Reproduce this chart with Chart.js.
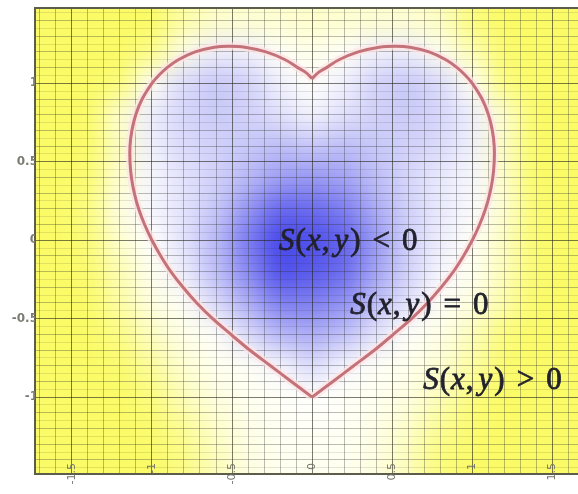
<!DOCTYPE html>
<html>
<head>
<meta charset="utf-8">
<script src="https://cdn.jsdelivr.net/npm/chart.js@4.4.1/dist/chart.umd.min.js"></script>
<style>
  html, body { margin: 0; padding: 0; background: #fff; }
  #wrap { width: 578px; height: 494px; }
</style>
</head>
<body>
<div id="wrap"><canvas id="heart"></canvas></div>
<script>
// labelled ticks
var xTicks = [-1.5, -1, -0.5, 0, 0.5, 1, 1.5];
var yTicks = [-1, -0.5, 0, 0.5, 1];

// sampled S(x,y) shading, -1 = deepest blue, 0 = white, 1 = full yellow
var fieldX = [-1.6, -1.4, -1.2, -1.0, -0.8, -0.6, -0.4, -0.2, 0, 0.2, 0.4, 0.6, 0.8, 1.0, 1.2, 1.4, 1.6];
var fieldY = [1.4, 1.2, 1.0, 0.8, 0.6, 0.4, 0.2, 0, -0.2, -0.4, -0.6, -0.8, -1.0, -1.2, -1.4];
var fieldRows = [
    [1, 1, 1, 1, 0.6, 0.35, 0.3, 0.3, 0.35, 0.3, 0.3, 0.3, 0.4, 0.85, 1, 1, 1],
    [1, 1, 1, 0.8, 0.15, -0.1, -0.08, 0.05, 0.15, 0.05, -0.08, -0.1, 0.1, 0.5, 0.95, 1, 1],
    [1, 1, 0.9, 0.05, -0.2, -0.3, -0.25, -0.08, 0.02, -0.08, -0.25, -0.3, -0.2, 0.05, 0.85, 1, 1],
    [1, 1, 0.3, -0.1, -0.22, -0.28, -0.25, -0.16, -0.06, -0.16, -0.25, -0.28, -0.22, -0.1, 0.3, 1, 1],
    [1, 1, 0.4, -0.08, -0.2, -0.25, -0.3, -0.35, -0.3, -0.35, -0.3, -0.25, -0.2, -0.08, 0.4, 1, 1],
    [1, 0.95, 0.3, -0.05, -0.15, -0.25, -0.38, -0.52, -0.55, -0.5, -0.35, -0.22, -0.12, -0.05, 0.35, 1, 1],
    [1, 0.85, 0.2, -0.05, -0.15, -0.3, -0.58, -0.82, -0.8, -0.7, -0.45, -0.25, -0.12, -0.03, 0.3, 0.95, 1],
    [1, 0.9, 0.3, 0, -0.15, -0.38, -0.72, -1, -0.95, -0.85, -0.55, -0.25, -0.1, 0.05, 0.4, 0.95, 1],
    [1, 0.95, 0.5, 0.1, -0.1, -0.35, -0.65, -0.95, -0.9, -0.8, -0.5, -0.25, -0.05, 0.1, 0.45, 0.95, 1],
    [1, 1, 0.6, 0.2, 0.05, -0.2, -0.45, -0.7, -0.7, -0.6, -0.35, -0.15, 0.05, 0.2, 0.55, 1, 1],
    [1, 1, 0.8, 0.4, 0.15, 0.03, -0.2, -0.4, -0.45, -0.35, -0.15, 0.03, 0.15, 0.45, 0.85, 1, 1],
    [1, 1, 0.95, 0.65, 0.3, 0.1, 0.05, -0.05, -0.2, -0.05, 0.05, 0.12, 0.3, 0.6, 0.95, 1, 1],
    [1, 1, 1, 0.85, 0.45, 0.2, 0.1, 0.05, 0, 0.05, 0.1, 0.2, 0.45, 0.85, 1, 1, 1],
    [1, 1, 1, 0.95, 0.7, 0.35, 0.15, 0.07, 0.05, 0.07, 0.15, 0.35, 0.7, 0.95, 1, 1, 1],
    [1, 1, 1, 1, 0.8, 0.45, 0.2, 0.1, 0.1, 0.1, 0.2, 0.45, 0.85, 1, 1, 1, 1]
];

// the S(x,y) = 0 curve, traced from the top notch round to the bottom tip
var heartY      = [1.03, 1.07, 1.1, 1.15, 1.2, 1.23, 1.236, 1.23, 1.2, 1.15, 1.1, 1.05, 1.0, 0.9, 0.8, 0.7, 0.6, 0.5, 0.4, 0.3, 0.2, 0.1, 0, -0.1, -0.2, -0.3, -0.4, -0.5, -0.6, -0.7, -0.8, -0.9, -1.0];
var heartRightX = [0, 0.04, 0.09, 0.168, 0.288, 0.42, 0.52, 0.61, 0.73, 0.835, 0.905, 0.958, 1.0, 1.061, 1.101, 1.125, 1.137, 1.137, 1.128, 1.11, 1.083, 1.046, 1.0, 0.945, 0.882, 0.806, 0.72, 0.621, 0.507, 0.39, 0.26, 0.13, 0];
var heartLeftX  = [0, -0.04, -0.09, -0.168, -0.288, -0.42, -0.52, -0.61, -0.73, -0.835, -0.905, -0.958, -1.0, -1.061, -1.101, -1.125, -1.137, -1.137, -1.128, -1.11, -1.083, -1.046, -1.0, -0.945, -0.882, -0.806, -0.72, -0.621, -0.507, -0.39, -0.26, -0.13, 0];

var relations = ['<', '=', '>'];

function points(xs, ys) {
    return xs.map(function (x, i) { return { x: x, y: ys[i] }; });
}

function near(a, b) { return Math.abs(a - b) < 1e-6; }

function tickText(list) {
    return function (value) {
        for (var i = 0; i < list.length; i++) {
            if (near(list[i], value)) return String(list[i]);
        }
        return '';
    };
}

function isHalf(v) { return near(v * 2, Math.round(v * 2)); }
function isTenth(v) { return near(v * 10, Math.round(v * 10)); }

function fieldColour(v) {
    var t;
    if (v < 0) {
        t = Math.min(1, -v);
        return 'rgb(' + Math.round(255 - 185 * t) + ',' + Math.round(255 - 185 * t) + ',' + Math.round(255 - 20 * t) + ')';
    }
    t = Math.min(1, v);
    return 'rgb(' + Math.round(255 - 4 * t) + ',' + Math.round(255 - 4 * t) + ',' + Math.round(255 - 152 * t) + ')';
}

// shaded background, painted under the grid
var fieldPlugin = {
    id: 'field',
    beforeDraw: function (chart) {
        var xs = chart.scales.x, ys = chart.scales.y, area = chart.chartArea;
        var pad = 80;
        var off = document.createElement('canvas');
        off.width = chart.width + pad * 2;
        off.height = chart.height + pad * 2;
        var o = off.getContext('2d');
        o.translate(pad, pad);
        for (var r = 0; r < fieldY.length; r++) {
            for (var c = 0; c < fieldX.length; c++) {
                var x0 = xs.getPixelForValue(fieldX[c] - 0.1);
                var x1 = xs.getPixelForValue(fieldX[c] + 0.1);
                var y0 = ys.getPixelForValue(fieldY[r] + 0.1);
                var y1 = ys.getPixelForValue(fieldY[r] - 0.1);
                if (c === 0) x0 -= pad;
                if (c === fieldX.length - 1) x1 += pad;
                if (r === 0) y0 -= pad;
                if (r === fieldY.length - 1) y1 += pad;
                o.fillStyle = fieldColour(fieldRows[r][c]);
                o.fillRect(Math.floor(x0), Math.floor(y0), Math.ceil(x1 - x0) + 1, Math.ceil(y1 - y0) + 1);
            }
        }
        var ctx = chart.ctx;
        ctx.save();
        ctx.beginPath();
        ctx.rect(area.left, area.top, area.right - area.left, area.bottom - area.top);
        ctx.clip();
        ctx.filter = 'blur(12px)';
        ctx.drawImage(off, -pad, -pad);
        ctx.restore();
    }
};

// top edge of the frame, upright x labels straddling the bottom edge, region captions
var notesPlugin = {
    id: 'notes',
    afterDraw: function (chart, args, opts) {
        var ctx = chart.ctx, area = chart.chartArea;
        var xs = chart.scales.x, ys = chart.scales.y;
        ctx.save();
        ctx.strokeStyle = '#5d5d4c';
        ctx.lineWidth = 2;
        ctx.beginPath();
        ctx.moveTo(area.left, area.top);
        ctx.lineTo(area.right, area.top);
        ctx.stroke();

        ctx.fillStyle = '#74746c';
        ctx.font = '11px "DejaVu Sans"';
        ctx.textAlign = 'right';
        ctx.textBaseline = 'middle';
        xTicks.forEach(function (v) {
            ctx.save();
            ctx.translate(xs.getPixelForValue(v), area.bottom - 11);
            ctx.rotate(-Math.PI / 2);
            ctx.fillText(String(v), 0, 0);
            ctx.restore();
        });

        var italic = 'italic 31px "Liberation Serif"';
        var upright = '31px "Liberation Serif"';
        ctx.fillStyle = '#22222e';
        ctx.strokeStyle = '#22222e';
        ctx.lineWidth = 0.8;
        ctx.textBaseline = 'alphabetic';
        ctx.textAlign = 'left';
        opts.anchors.forEach(function (a, i) {
            var parts = [
                ['S', italic, 1], ['(', upright, 1], ['x', italic, 1], [',', upright, 5],
                ['y', italic, 2], [')', upright, 12], [relations[i], upright, 12], ['0', upright, 0]
            ];
            var px = xs.getPixelForValue(a.x);
            var py = ys.getPixelForValue(a.y);
            parts.forEach(function (p) {
                ctx.font = p[1];
                ctx.fillText(p[0], px, py);
                ctx.strokeText(p[0], px, py);
                px += ctx.measureText(p[0]).width + p[2];
            });
        });
        ctx.restore();
    }
};

var heartLine = 'rgb(194, 114, 120)';
var heartGlow = 'rgba(255, 228, 228, 0.75)';

var chart = new Chart(document.getElementById('heart'), {
    type: 'scatter',
    data: {
        datasets: [{
            data: points(heartRightX, heartY),
            showLine: true,
            borderColor: heartLine,
            borderWidth: 3,
            pointRadius: 0,
            tension: 0.35
        }, {
            data: points(heartLeftX, heartY),
            showLine: true,
            borderColor: heartLine,
            borderWidth: 3,
            pointRadius: 0,
            tension: 0.35
        }, {
            data: points(heartRightX, heartY),
            showLine: true,
            borderColor: heartGlow,
            borderWidth: 8,
            pointRadius: 0,
            tension: 0.35
        }, {
            data: points(heartLeftX, heartY),
            showLine: true,
            borderColor: heartGlow,
            borderWidth: 8,
            pointRadius: 0,
            tension: 0.35
        }]
    },
    options: {
        responsive: true,
        maintainAspectRatio: false,
        animation: false,
        events: [],
        layout: { padding: { top: 8, right: 0, left: 0, bottom: 0 } },
        plugins: {
            legend: { display: false },
            tooltip: { enabled: false },
            notes: {
                anchors: [
                    { x: -0.206, y: -0.064 },
                    { x: 0.2375, y: -0.473 },
                    { x: 0.694, y: -0.946 }
                ]
            }
        },
        scales: {
            x: {
                type: 'linear',
                min: -1.73,
                max: 1.66,
                afterFit: function (scale) { scale.height = 20; },
                border: { color: '#5d5d4c', width: 2 },
                grid: {
                    drawTicks: false,
                    color: function (c) {
                        return isHalf(c.tick.value) ? 'rgba(35, 35, 25, 0.6)' : 'rgba(45, 45, 45, 0.32)';
                    }
                },
                ticks: {
                    display: false,
                    stepSize: 0.1,
                    autoSkip: false,
                    includeBounds: false
                }
            },
            y: {
                type: 'linear',
                min: -1.49,
                max: 1.48,
                afterFit: function (scale) { scale.width = 35; },
                border: { color: '#5d5d4c', width: 2 },
                grid: {
                    drawTicks: false,
                    color: function (c) {
                        var v = c.tick.value;
                        if (isHalf(v)) return 'rgba(35, 35, 25, 0.6)';
                        return isTenth(v) ? 'rgba(45, 45, 45, 0.32)' : 'rgba(45, 45, 45, 0.12)';
                    }
                },
                ticks: {
                    stepSize: 0.05,
                    autoSkip: false,
                    includeBounds: false,
                    padding: -3,
                    color: '#7c7c74',
                    font: { family: 'DejaVu Sans', size: 12, weight: 'bold' },
                    callback: tickText(yTicks)
                }
            }
        }
    },
    plugins: [fieldPlugin, notesPlugin]
});
</script>
</body>
</html>
